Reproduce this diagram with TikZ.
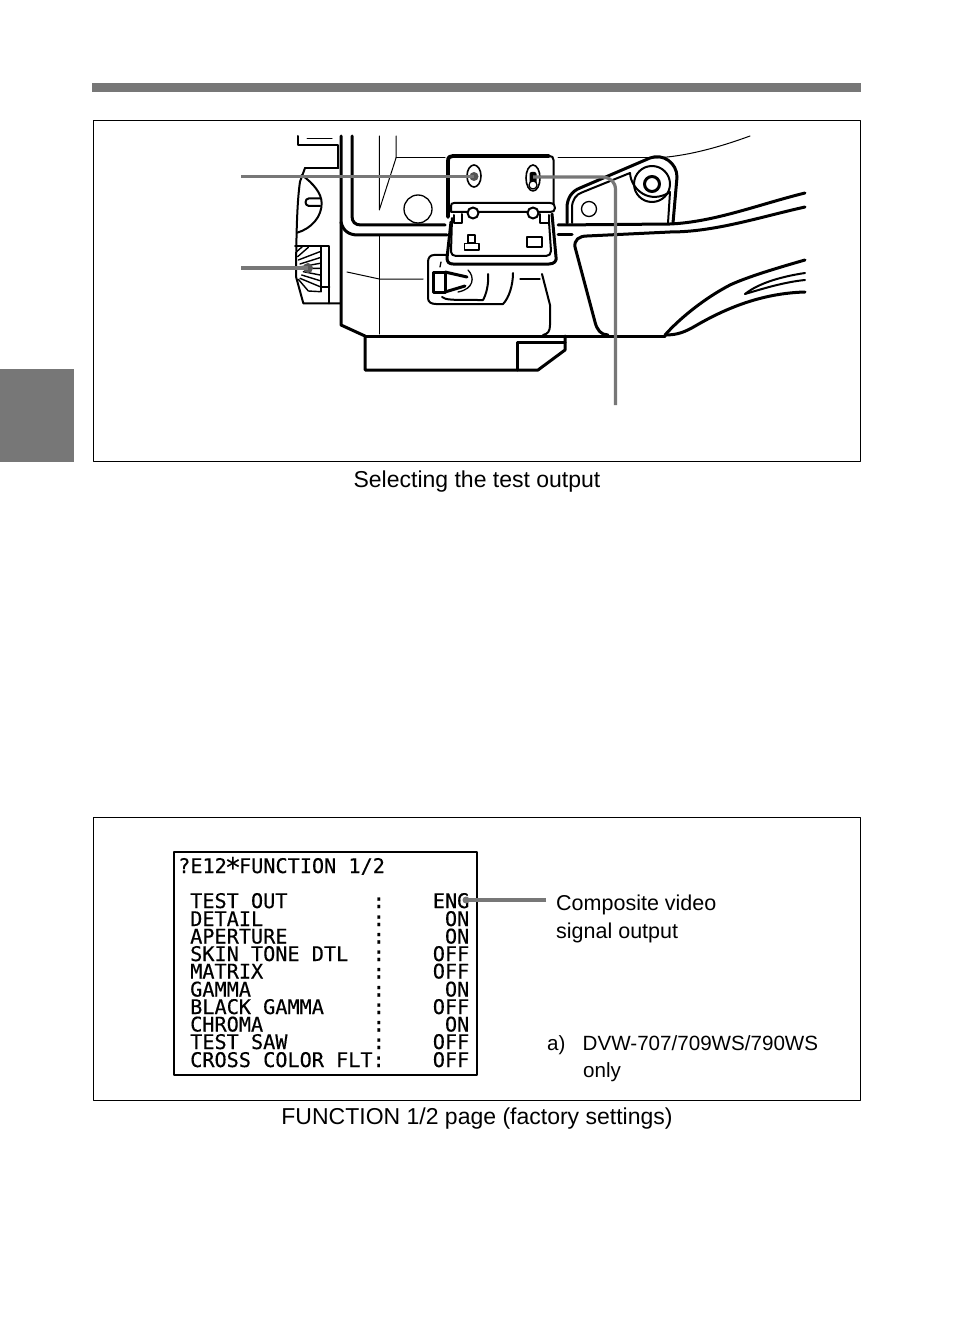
\documentclass[tikz,border=0pt]{standalone}
\usepackage{fontspec}
\setmainfont{Liberation Sans}
\newfontfamily\osdfont[FakeBold=0.35]{DejaVu Sans Mono}
\begin{document}
\begin{tikzpicture}[x=1pt,y=-1pt,line cap=round,line join=round,
  thick3/.style={line width=3pt},
  med/.style={line width=2pt},
  thinl/.style={line width=1pt},
  frameb/.style={draw=black,line width=1pt},
  leader/.style={draw=leadc,line width=3.2pt,line cap=butt},
  leaddot/.style={circle,fill=#1,inner sep=0pt,minimum size=9pt},
  captext/.style={font=\fontsize{23}{26}\selectfont,anchor=base,inner sep=0pt},
  body/.style={font=\fontsize{21.5}{26}\selectfont,anchor=base west,inner sep=0pt},
  bodys/.style={font=\fontsize{20.6}{26}\selectfont,anchor=base west,inner sep=0pt},
  osd/.style={font=\osdfont\fontsize{20.2}{20}\selectfont,anchor=base west,inner sep=0pt},
  osdr/.style={font=\osdfont\fontsize{20.2}{20}\selectfont,anchor=base east,inner sep=0pt}]
\definecolor{leadc}{HTML}{777777}
\definecolor{darkdot}{HTML}{555555}
\useasboundingbox (0,0) rectangle (954,1324);
\fill[white] (0,0) rectangle (954,1324);
% page furniture
\fill[leadc] (92,83) rectangle (861,92);
\fill[leadc] (0,369) rectangle (74,462);
\draw[frameb] (93.5,120.5) rectangle (860.5,461.5);
\draw[frameb] (93.5,817) rectangle (860.5,1100);
% --- camera: upper left block
\draw[med] (298,136) -- (298,145) -- (338,145) -- (338,168) -- (305,168);
\draw[thinl] (307,139) -- (332,139);
\draw[thick3] (341,136) -- (341,325) -- (365,336) -- (365,370) -- (538,370) -- (565,350) -- (565,336);
\draw[thick3] (517,370) -- (517,342) -- (565,342);
\draw[thick3] (365,336) -- (665,336);
% inner contours
\draw[thick3] (352,136) -- (352,216) .. controls (352,222) and (355,225) .. (361,225) -- (445,225);
\draw[thick3] (341,222) .. controls (343,231) and (349,235) .. (358,235) -- (447,235);
\draw[thick3] (558,235) -- (572,235);
\draw[thick3] (558,225) -- (670,224) .. controls (715,222) and (760,204) .. (805,193);
\draw[thinl] (379.3,136) -- (379.3,210) -- (396,158) -- (396,136);
\draw[thinl] (396,158) -- (445,158);
\draw[thinl] (558,158) -- (653,158);
\draw[thinl] (653,158) .. controls (685,157) and (720,147) .. (750,136);
\draw[thinl] (379.3,236) -- (379.3,334);
\draw[thinl] (347,272) -- (379.3,279) -- (423,279);
\draw[line width=1.3pt] (418,209) circle (14);
% left dial and wheel, in 3x zoom units
\begin{scope}[shift={(285,160)},x=0.33333pt,y=-0.33333pt]
\draw[med] (60,24) -- (160,24);
\draw[med] (60,24) -- (45,65) .. controls (37,120) and (34,200) .. (33,350) -- (55,430) -- (165,430);
\draw[med] (50,45) .. controls (85,70) and (110,100) .. (110,130) .. controls (110,170) and (80,205) .. (37,218);
\draw[med] (105,115) -- (72,115) .. controls (58,115) and (58,138) .. (72,138) -- (105,138);
\draw[med] (30,258) -- (133,258) -- (133,430);
\draw[med] (108,258) -- (108,395);
\draw[med] (108,382) -- (133,382);
\draw[line width=1.4pt]
 (35,275) -- (52,260) (38,290) -- (70,262)
 (40,300) -- (105,275) (45,312) -- (105,293) (50,320) -- (105,310) (55,325) -- (105,325)
 (55,335) -- (105,345) (50,345) -- (105,362) (45,355) -- (105,380) (40,358) -- (70,393) -- (105,395);
\end{scope}
% hinged panel
\draw[line width=3.8pt] (448,217) -- (448,161) .. controls (448,157) and (450,156) .. (453,156) -- (549,156);
\draw[med] (549,156) .. controls (552,156) and (553.5,157) .. (553.5,160) -- (553.5,204);
\draw[thick3] (451,222) -- (447,258) .. controls (447,262) and (449,264) .. (453,264) -- (549,264) .. controls (554,264) and (557,261) .. (556,257) -- (552,214);
\draw[med] (452,218) -- (451,252) .. controls (451,254) and (453,256) .. (456,256) -- (546,256) .. controls (549,256) and (551,254) .. (551,251) -- (549,222);
\draw[med] (454,215) -- (454,223) -- (462,223) -- (462,214);
\draw[med] (549,215) -- (549,223) -- (540,223) -- (540,214);
\draw[med,fill=white] (451,212) -- (451,206) .. controls (451,204) and (452,203) .. (454,203) -- (550,203) .. controls (554,203) and (555,206) .. (555,208) .. controls (555,211) and (553,212) .. (550,212) -- cycle;
\draw[med,fill=white] (473,213) circle (5.5);
\draw[med,fill=white] (533,213) circle (5.5);
\draw[line width=1.3pt] (468,235) rectangle (475,243);
\draw[line width=1.3pt] (464.5,243.5) rectangle (479,250);
\draw[line width=1.3pt] (527,237) rectangle (542,247);
\draw[line width=1.6pt] (474,176) ellipse (7 and 11);
\draw[line width=1.6pt] (533,178) ellipse (7 and 13);
\fill[black,rounded corners=2pt] (529.5,172) rectangle (536.5,187);
\draw[line width=1.2pt,fill=white] (533,185) circle (4);
% lever recess
\draw[med] (447,255) -- (434,255) .. controls (430,255) and (428,258) .. (428,262) -- (428,298) .. controls (428,302) and (431,304) .. (436,304) -- (503,304) .. controls (509,298) and (513,285) .. (513,273);
\draw[med] (442,297) .. controls (446,300) and (450,300) .. (483,300) .. controls (486,295) and (489,284) .. (488,274);
\draw[thick3] (433.5,272) rectangle (445,292);
\draw[thick3] (445,272) -- (467,277) (445,292) -- (465,286);
\draw[line width=1.3pt] (468,270) .. controls (475,277) and (474,289) .. (458,292);
\draw[line width=1.3pt] (441,262) -- (440,267);
\draw[line width=1.3pt] (520,279) -- (540,279);
\draw[med] (542,274) -- (550,305) -- (550,325) .. controls (550,331) and (548,334) .. (543,335);
% grip
\draw[thick3] (805,207) .. controls (760,217) and (715,232) .. (670,232) -- (587,236) .. controls (579,236) and (574,240) .. (575,247) -- (595,322) .. controls (597,330) and (601,335) .. (608,335);
\draw[thick3] (805,260) .. controls (770,270) and (745,278) .. (730,285) .. controls (705,298) and (680,318) .. (665,335);
\draw[thick3] (805,292) .. controls (770,293) and (735,303) .. (697,325) .. controls (685,332) and (678,335) .. (665,335);
\draw[med] (745,294) .. controls (760,282) and (785,276) .. (805,273);
\draw[med] (745,294) .. controls (765,288) and (785,282) .. (805,280);
% handle
\draw[thick3] (567,223) -- (567,208) .. controls (567,198) and (572,191) .. (580,188) -- (650,158) .. controls (663,153) and (677,163) .. (677,177) -- (673,223);
\draw[med] (572,223) -- (572,208) .. controls (572,200) and (576,194) .. (583,192) -- (630,173);
\draw[med] (630,173) .. controls (631,190) and (650,205) .. (670,192) -- (668,223);
\draw[med] (652,184) circle (18);
\draw[thick3] (652,184) circle (7.5);
\draw[line width=1.3pt] (589,209) circle (7.5);
% leaders top
\coordinate (lead1a) at (241,176.5);
\coordinate (lead2a) at (241,268);
\coordinate (lead3a) at (615.5,405);
\node[leaddot=darkdot] (lead1dot) at (474,176.5) {};
\node[leaddot=darkdot,minimum size=10pt] (lead2dot) at (308,268) {};
\coordinate (lead3dot) at (533,177);
\draw[leader] (lead1a) -- (lead1dot.center);
\draw[leader] (lead2a) -- (lead2dot.center);
\draw[leader] (lead3dot) -- (603,177) .. controls (611,178) and (615.5,182) .. (615.5,190) -- (lead3a);
% captions
\node[captext] (capa) at (477,487) {Selecting the test output};
\node[captext] (capb) at (477,1124) {FUNCTION 1/2 page (factory settings)};
% OSD
\draw[line width=1.6pt] (174,852) rectangle (477,1075);
\node[osd] (title) at (178,873) {?E12\makebox[12.16pt]{\raisebox{-4pt}{\fontsize{27}{27}\selectfont *}}FUNCTION 1/2};
\foreach \n/\y/\a/\b in {a/908/TEST OUT/ENG,b/926/DETAIL/ON,c/943.5/APERTURE/ON,d/961/SKIN TONE DTL/OFF,e/978.5/MATRIX/OFF,f/996.5/GAMMA/ON,g/1014/BLACK GAMMA/OFF,h/1031.5/CHROMA/ON,i/1049/TEST SAW/OFF}{
  \node[osd] (l\n) at (190,\y) {\a};
  \node[osd] (c\n) at (372.5,\y) {:};
  \node[osdr] (v\n) at (469.5,\y) {\b};
}
\node[osd] (lj) at (190,1067) {CROSS COLOR FLT:};
\node[osdr] (vj) at (469.5,1067) {OFF};
% OSD leader
\coordinate (lead4a) at (546,900);
\node[leaddot=leadc,minimum size=7pt] (lead4dot) at (466,900) {};
\draw[leader] (lead4a) -- (lead4dot.center);
% notes
\node[body] (n1) at (556,910) {Composite video};
\node[body] (n2) at (556,938) {signal output};
\node[bodys] (n3) at (547,1050) {a)};
\node[bodys] (n4) at (582.5,1050) {DVW-707/709WS/790WS};
\node[bodys] (n5) at (583,1077) {only};
\end{tikzpicture}
\end{document}
